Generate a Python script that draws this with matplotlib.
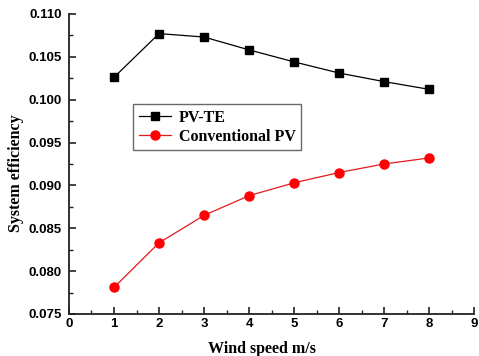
import matplotlib
matplotlib.use("Agg")
import matplotlib.pyplot as plt
from matplotlib.ticker import MultipleLocator, FormatStrFormatter

wind_speed = [1, 2, 3, 4, 5, 6, 7, 8]
pv_te = [0.1026, 0.1077, 0.1073, 0.1058, 0.1044, 0.1031, 0.1021, 0.1012]
conventional_pv = [0.0781, 0.0833, 0.0865, 0.0888, 0.0903, 0.0915, 0.0925, 0.0932]

fig = plt.figure(figsize=(4.79, 3.56), dpi=100)
ax = fig.add_axes([0.144, 0.118, 0.846, 0.843])

ax.plot(wind_speed, pv_te, color='black', lw=0.9, marker='s', ms=6, label='PV-TE')
ax.plot(wind_speed, conventional_pv, color='#e31a1c', lw=0.9, marker='o', ms=6.5,
        mfc='red', mec='red', label='Conventional PV')

ax.set_xlim(0, 9)
ax.set_ylim(0.075, 0.110)
ax.xaxis.set_major_locator(MultipleLocator(1))
ax.xaxis.set_minor_locator(MultipleLocator(0.5))
ax.yaxis.set_major_locator(MultipleLocator(0.005))
ax.yaxis.set_minor_locator(MultipleLocator(0.0025))
ax.yaxis.set_major_formatter(FormatStrFormatter('%.3f'))

for s in ['top', 'right']:
    ax.spines[s].set_visible(False)
for s in ['left', 'bottom']:
    ax.spines[s].set_linewidth(1.3)
    ax.spines[s].set_color('#222222')

ax.tick_params(which='major', direction='in', length=5, width=1.2, color='#222222')
ax.tick_params(axis='x', which='major', pad=3)
ax.tick_params(axis='y', which='major', pad=5)
ax.tick_params(which='minor', direction='in', length=3, width=1.0, color='#222222')
for lab in ax.get_xticklabels() + ax.get_yticklabels():
    lab.set_fontfamily('Liberation Sans')
    lab.set_fontweight('bold')
    lab.set_fontsize(9.5)

ax.set_xlabel('Wind speed m/s', fontfamily='Liberation Serif', fontweight='bold', fontsize=11.5, labelpad=7)
ax.set_ylabel('System efficiency', fontfamily='Liberation Serif', fontweight='bold', fontsize=11.5, labelpad=3)
ax.xaxis.set_label_coords(0.477, -0.09)
ax.yaxis.label.set_y(0.47)

leg = ax.legend(loc='upper left', bbox_to_anchor=(0.158, 0.70),
                prop={'family': 'Liberation Serif', 'weight': 'bold', 'size': 11.5},
                frameon=True, fancybox=False, edgecolor='#444444',
                handlelength=2.0, borderpad=0.35, labelspacing=0.2, handletextpad=0.5,
                borderaxespad=0)
leg.get_frame().set_linewidth(1.0)

fig.savefig('out.png', dpi=100)
